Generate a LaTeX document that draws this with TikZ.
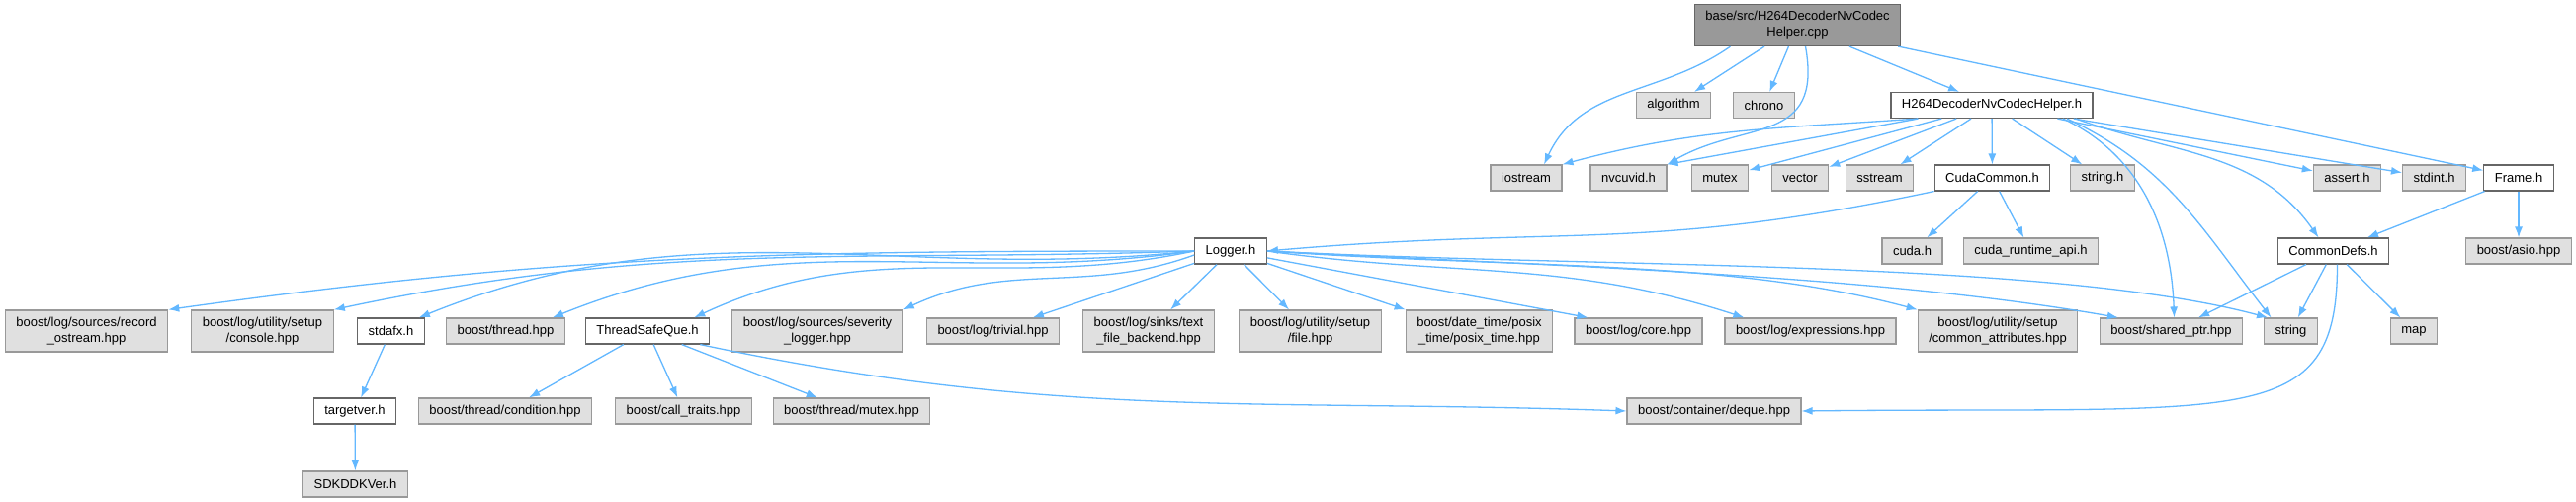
\documentclass[tikz,border=0pt]{standalone}
\usepackage{fontspec}
\setmainfont{Liberation Sans}
\usetikzlibrary{arrows.meta}
\definecolor{edgeblue}{HTML}{63B8FF}
\definecolor{sysfill}{HTML}{E0E0E0}
\definecolor{sysline}{HTML}{999999}
\definecolor{hdrline}{HTML}{666666}
\definecolor{rootfill}{HTML}{999999}

\begin{document}
\begin{tikzpicture}[x=1pt,y=1pt,
        every node/.style={font=\fontsize{13}{16}\selectfont,inner xsep=11pt,inner ysep=4pt,
          minimum height=26pt,align=center,line width=1.2pt},
        sys/.style={rectangle,draw=sysline,fill=sysfill},
        hdr/.style={rectangle,draw=hdrline,fill=white},
        src/.style={rectangle,draw=hdrline,fill=rootfill},
        tall/.style={minimum height=42pt},
        arrow/.style={-{Latex[length=11pt,width=8pt]},draw=edgeblue,line width=1.3pt}]
        \useasboundingbox[fill=white] (0,0) rectangle (2606,508);
        % top file and its direct includes
        \node[src,tall] (root) at (1818.5,482.5) {base/src/H264DecoderNvCodec\\Helper.cpp};
        \node[sys] (algorithm) at (1693,401.5) {algorithm};
        \node[sys] (chrono) at (1784.5,401.5) {chrono};
        \node[hdr] (helperh) at (2015,401.5) {H264DecoderNvCodecHelper.h};
        \node[sys] (iostream) at (1544,328) {iostream};
        \node[sys] (nvcuvid) at (1647.5,328) {nvcuvid.h};
        \node[sys] (mutex) at (1740,328) {mutex};
        \node[sys] (vector) at (1821,328) {vector};
        \node[sys] (sstream) at (1901.5,328) {sstream};
        \node[hdr] (cudacommon) at (2015.5,328) {CudaCommon.h};
        \node[sys] (stringh) at (2127,328) {string.h};
        \node[sys] (asserth) at (2374.5,328) {assert.h};
        \node[sys] (stdinth) at (2462.5,328) {stdint.h};
        \node[hdr] (frameh) at (2548,328) {Frame.h};
        \node[sys] (cudah) at (1934.5,254) {cuda.h};
        \node[sys] (cudart) at (2054.5,254) {cuda\_runtime\_api.h};
        \node[hdr] (commondefs) at (2360.5,254) {CommonDefs.h};
        \node[sys] (asio) at (2548,254) {boost/asio.hpp};
        \node[hdr] (logger) at (1245,254) {Logger.h};
        % logger level
        \node[sys,tall] (recostream) at (87.5,173) {boost/log/sources/record\\\_ostream.hpp};
        \node[sys,tall] (console) at (265.5,173) {boost/log/utility/setup\\/console.hpp};
        \node[hdr] (stdafx) at (395.5,173) {stdafx.h};
        \node[sys] (thread) at (511.5,173) {boost/thread.hpp};
        \node[hdr] (tsq) at (655,173) {ThreadSafeQue.h};
        \node[sys,tall] (severity) at (827,173) {boost/log/sources/severity\\\_logger.hpp};
        \node[sys] (trivial) at (1004.5,173) {boost/log/trivial.hpp};
        \node[sys,tall] (textfile) at (1162,173) {boost/log/sinks/text\\\_file\_backend.hpp};
        \node[sys,tall] (setupfile) at (1325.5,173) {boost/log/utility/setup\\/file.hpp};
        \node[sys,tall] (posixtime) at (1496.5,173) {boost/date\_time/posix\\\_time/posix\_time.hpp};
        \node[sys] (logcore) at (1657.5,173) {boost/log/core.hpp};
        \node[sys] (expressions) at (1831.5,173) {boost/log/expressions.hpp};
        \node[sys,tall] (commonattr) at (2021,173) {boost/log/utility/setup\\/common\_attributes.hpp};
        \node[sys] (sharedptr) at (2196.5,173) {boost/shared\_ptr.hpp};
        \node[sys] (string) at (2317.5,173) {string};
        \node[sys] (map) at (2442,173) {map};
        \node[hdr] (targetver) at (359,92) {targetver.h};
        \node[sys] (condition) at (511,92) {boost/thread/condition.hpp};
        \node[sys] (calltraits) at (691.5,92) {boost/call\_traits.hpp};
        \node[sys] (threadmutex) at (861.5,92) {boost/thread/mutex.hpp};
        \node[sys] (deque) at (1734,92) {boost/container/deque.hpp};
        \node[sys] (sdkddkver) at (359.5,18) {SDKDDKVer.h};
        % edges from the cpp file
        \draw[arrow] ([xshift=-68pt]root.south) .. controls +(215:88) and +(65:88) .. ([xshift=18pt]iostream.north);
        \draw[arrow] (root) -- (algorithm);
        \draw[arrow] (root) -- (chrono);
        \draw[arrow] ([xshift=8pt]root.south) .. controls +(18,-100) and +(78,45) .. (nvcuvid.north east);
        \draw[arrow] (root) -- (helperh);
        \draw[arrow] (root) -- (frameh);
        % edges from H264DecoderNvCodecHelper.h
        \draw[arrow] ([xshift=-75pt]helperh.south) .. controls +(184:142) and +(15:142) .. (iostream.north east);
        \draw[arrow] (helperh) -- (nvcuvid.north east);
        \draw[arrow] (helperh) -- (mutex);
        \draw[arrow] (helperh) -- (vector);
        \draw[arrow] (helperh) -- (sstream);
        \draw[arrow] (helperh) -- (cudacommon);
        \draw[arrow] (helperh) -- (stringh);
        \draw[arrow] ([xshift=72pt]helperh.south) .. controls +(-25:88) and +(92:88) .. ([xshift=3pt]sharedptr.north);
        \draw[arrow] ([xshift=76pt]helperh.south) .. controls +(-25:113) and +(128:113) .. ([xshift=-20pt]string.north);
        \draw[arrow] ([xshift=85pt]helperh.south) .. controls +(-20:107) and +(125:107) .. ([xshift=-15pt]commondefs.north);
        \draw[arrow] (helperh) -- (asserth);
        \draw[arrow] (helperh) -- (stdinth);
        % CudaCommon.h, Frame.h, CommonDefs.h
        \draw[arrow] (cudacommon.south west) .. controls +(192:300) and +(5:300) .. (logger.east);
        \draw[arrow] (cudacommon) -- (cudah);
        \draw[arrow] (cudacommon) -- (cudart);
        \draw[arrow] (frameh) -- (commondefs);
        \draw[arrow] (frameh) -- (asio);
        \draw[arrow] (commondefs) -- (sharedptr);
        \draw[arrow] (commondefs) -- (string);
        \draw[arrow] (commondefs) -- (map);
        \draw[arrow] ([xshift=4pt]commondefs.south) .. controls +(0,-170) and +(450,5) .. (deque.east);
        % Logger.h
        \draw[arrow] (logger.west) .. controls +(180:408) and +(8:408) .. (recostream.north east);
        \draw[arrow] (logger.west) .. controls +(182:342) and +(12:342) .. (console.north east);
        \draw[arrow] (logger.west) .. controls +(186:309) and +(22:309) .. ([xshift=-6pt]stdafx.north east);
        \draw[arrow] (logger.west) .. controls +(188:256) and +(22:256) .. ([xshift=-13pt]thread.north east);
        \draw[arrow] (logger.west) .. controls +(192:201) and +(25:201) .. ([xshift=-16pt]tsq.north east);
        \draw[arrow] ([yshift=-4pt]logger.west) .. controls +(200:118) and +(25:118) .. (severity.north east);
        \draw[arrow] (logger) -- (trivial);
        \draw[arrow] (logger) -- (textfile);
        \draw[arrow] (logger) -- (setupfile);
        \draw[arrow] (logger) -- (posixtime.north west);
        \draw[arrow] (logger) -- ([xshift=14pt]logcore.north west);
        \draw[arrow] (logger.east) .. controls +(-8:192) and +(162:192) .. ([xshift=20pt]expressions.north west);
        \draw[arrow] (logger.east) .. controls +(-4:260) and +(165:200) .. (commonattr.north west);
        \draw[arrow] (logger.east) .. controls +(-3:300) and +(170:250) .. ([xshift=19pt]sharedptr.north west);
        \draw[arrow] (logger.east) .. controls +(-3:330) and +(165:230) .. ([xshift=4pt]string.north west);
        % small headers
        \draw[arrow] (stdafx) -- (targetver);
        \draw[arrow] (targetver) -- (sdkddkver);
        \draw[arrow] (tsq) -- (condition);
        \draw[arrow] (tsq) -- (calltraits);
        \draw[arrow] (tsq) -- (threadmutex);
        \draw[arrow] ([xshift=-10pt]tsq.south east) .. controls +(-12:369) and +(178:369) .. (deque.west);
      \end{tikzpicture}
\end{document}
